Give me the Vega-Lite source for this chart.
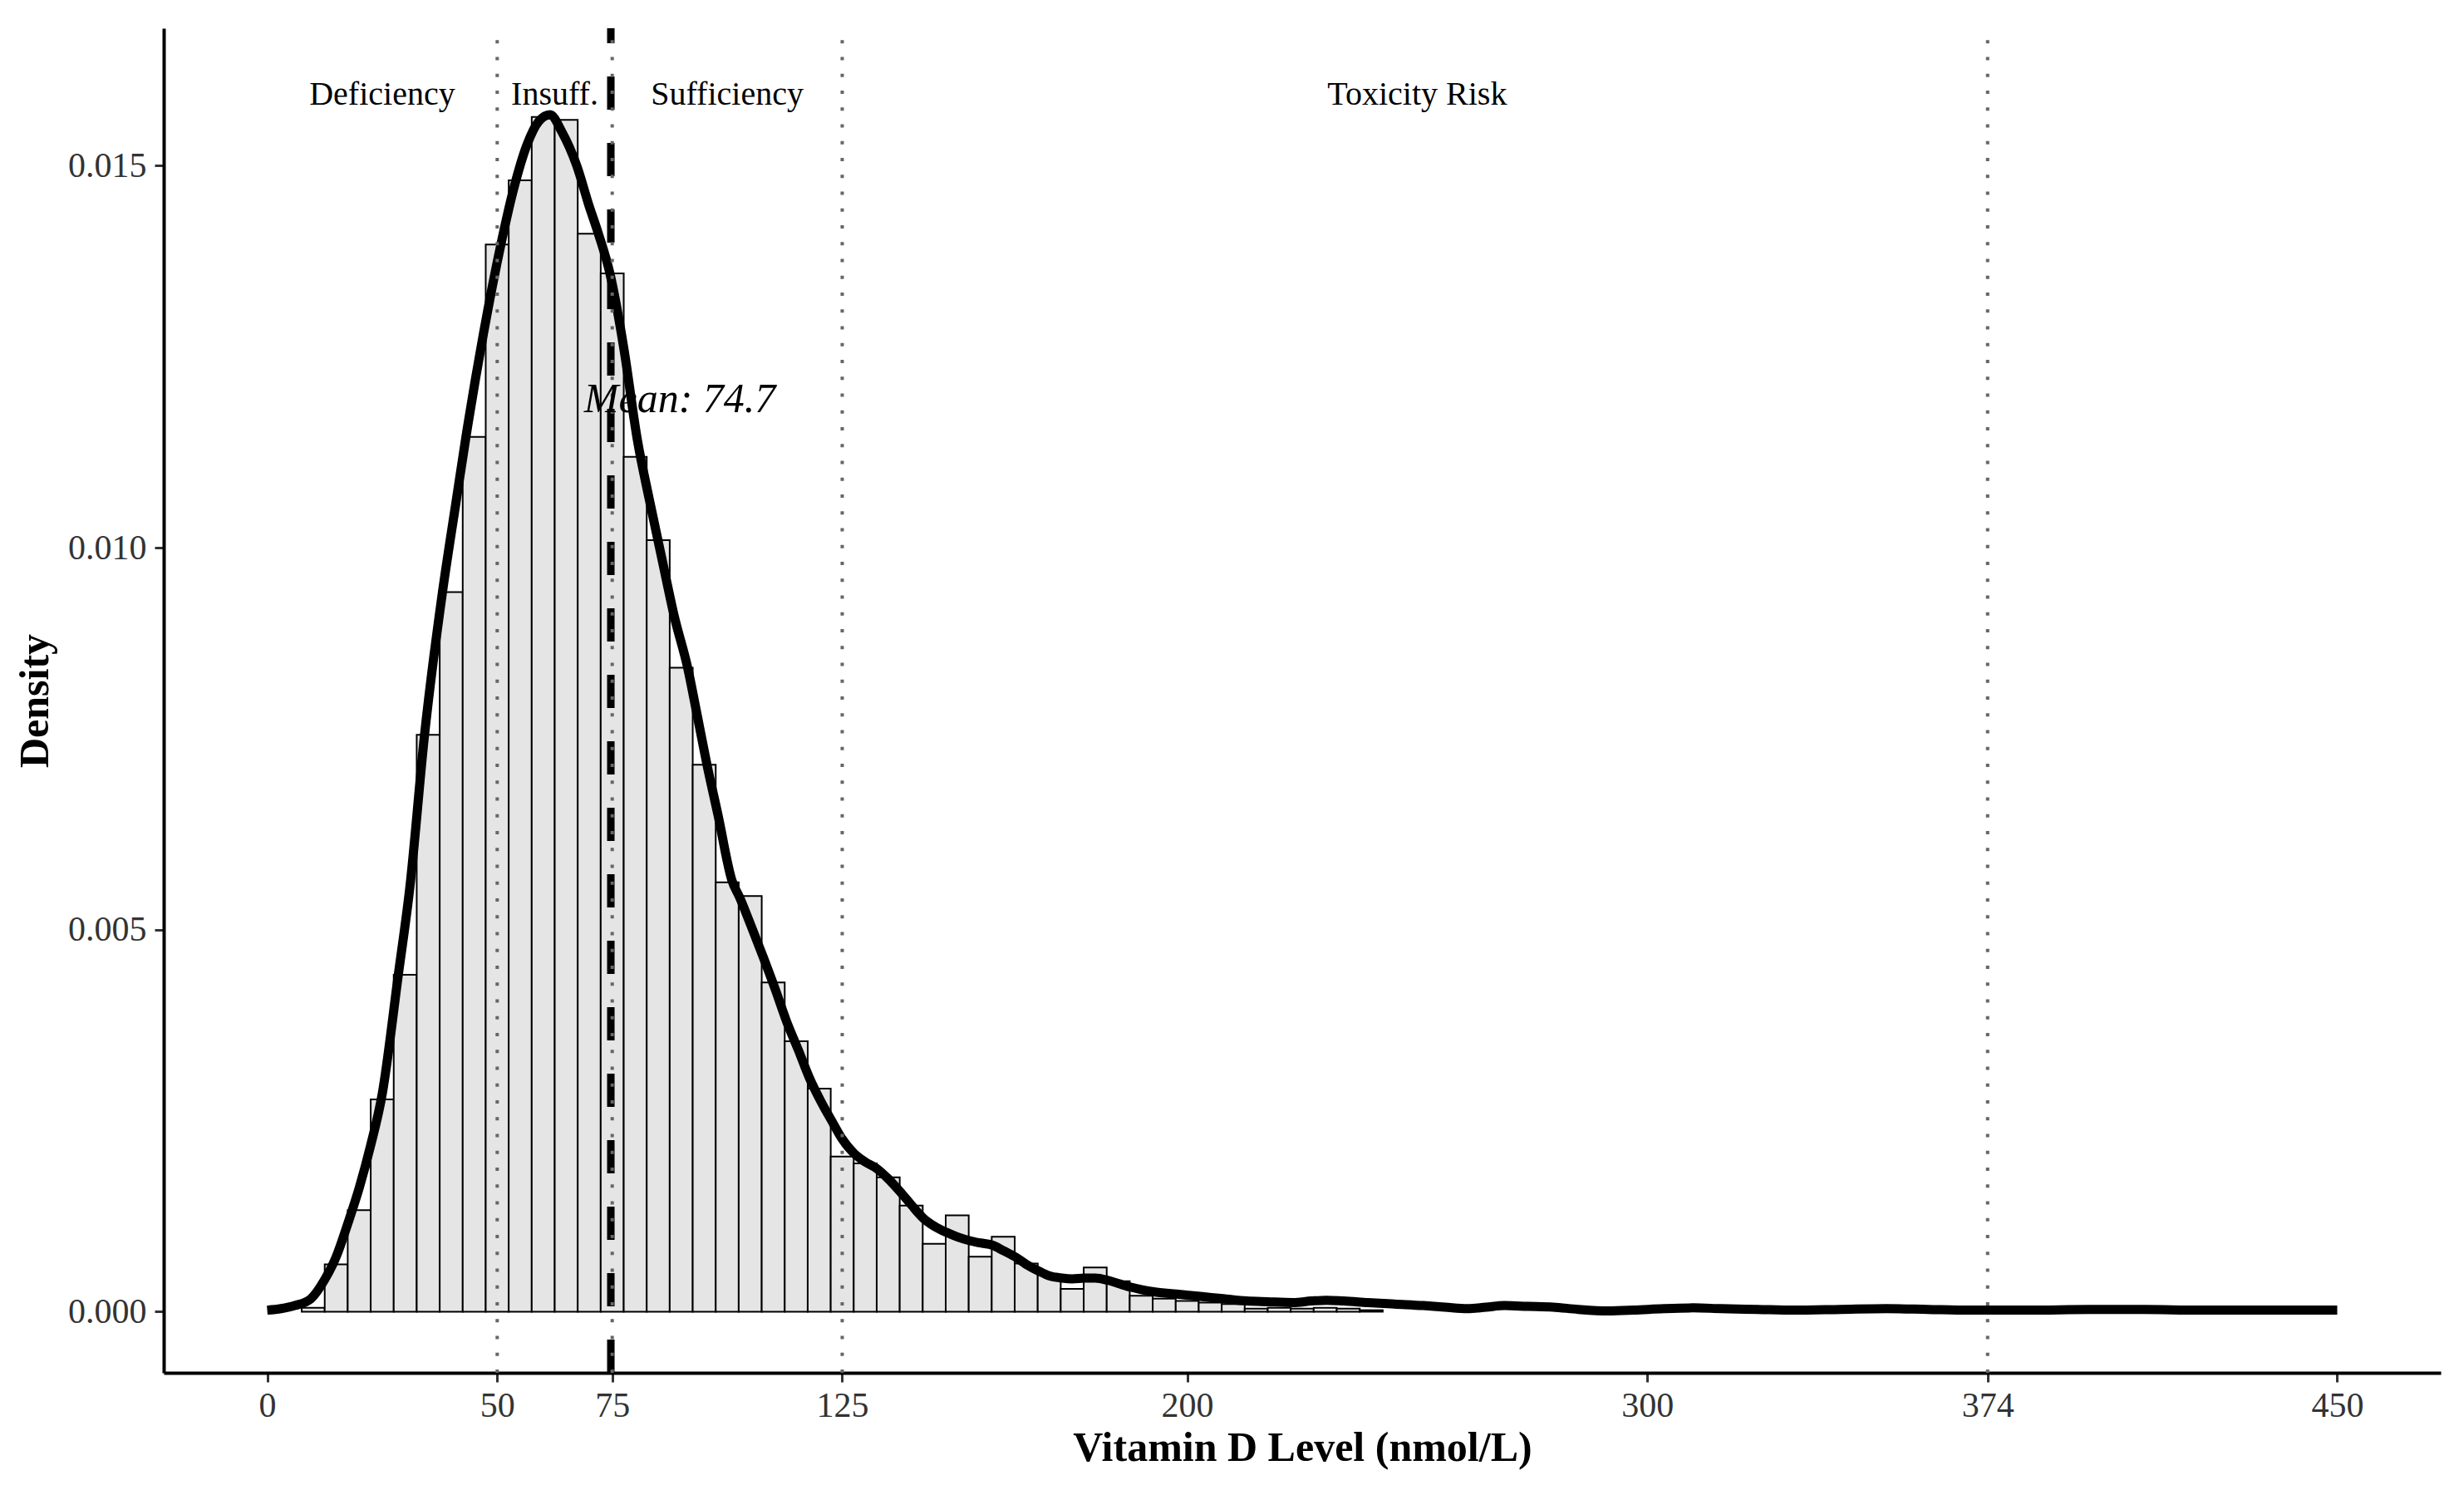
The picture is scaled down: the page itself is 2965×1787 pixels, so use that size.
{
  "$schema": "https://vega.github.io/schema/vega-lite/v6.json",
  "width": 2740,
  "height": 1618,
  "autosize": "none",
  "padding": {"left": 197, "top": 34, "right": 28, "bottom": 135},
  "background": "white",
  "config": {
    "view": {"stroke": null},
    "font": "Liberation Serif",
    "axis": {
      "grid": false,
      "domainColor": "black",
      "domainWidth": 4,
      "tickColor": "#333333",
      "tickWidth": 3,
      "tickSize": 11,
      "labelFont": "Liberation Serif",
      "labelFontSize": 42,
      "labelColor": "#333333",
      "titleFont": "Liberation Serif",
      "titleFontSize": 50,
      "titleFontWeight": "bold",
      "titleColor": "black"
    }
  },
  "datasets": {
    "bars": [
      {"start": 7.5, "end": 12.5, "density": 0.00005},
      {"start": 12.5, "end": 17.5, "density": 0.00062},
      {"start": 17.5, "end": 22.5, "density": 0.00133},
      {"start": 22.5, "end": 27.5, "density": 0.00278},
      {"start": 27.5, "end": 32.5, "density": 0.00441},
      {"start": 32.5, "end": 37.5, "density": 0.00755},
      {"start": 37.5, "end": 42.5, "density": 0.00942},
      {"start": 42.5, "end": 47.5, "density": 0.01145},
      {"start": 47.5, "end": 52.5, "density": 0.01397},
      {"start": 52.5, "end": 57.5, "density": 0.01481},
      {"start": 57.5, "end": 62.5, "density": 0.01564},
      {"start": 62.5, "end": 67.5, "density": 0.0156},
      {"start": 67.5, "end": 72.5, "density": 0.01411},
      {"start": 72.5, "end": 77.5, "density": 0.01359},
      {"start": 77.5, "end": 82.5, "density": 0.01119},
      {"start": 82.5, "end": 87.5, "density": 0.0101},
      {"start": 87.5, "end": 92.5, "density": 0.00843},
      {"start": 92.5, "end": 97.5, "density": 0.00716},
      {"start": 97.5, "end": 102.5, "density": 0.00562},
      {"start": 102.5, "end": 107.5, "density": 0.00544},
      {"start": 107.5, "end": 112.5, "density": 0.00431},
      {"start": 112.5, "end": 117.5, "density": 0.00354},
      {"start": 117.5, "end": 122.5, "density": 0.00292},
      {"start": 122.5, "end": 127.5, "density": 0.00203},
      {"start": 127.5, "end": 132.5, "density": 0.00194},
      {"start": 132.5, "end": 137.5, "density": 0.00176},
      {"start": 137.5, "end": 142.5, "density": 0.00139},
      {"start": 142.5, "end": 147.5, "density": 0.00089},
      {"start": 147.5, "end": 152.5, "density": 0.00126},
      {"start": 152.5, "end": 157.5, "density": 0.00072},
      {"start": 157.5, "end": 162.5, "density": 0.00098},
      {"start": 162.5, "end": 167.5, "density": 0.00063},
      {"start": 167.5, "end": 172.5, "density": 0.00048},
      {"start": 172.5, "end": 177.5, "density": 0.0003},
      {"start": 177.5, "end": 182.5, "density": 0.00058},
      {"start": 182.5, "end": 187.5, "density": 0.0004},
      {"start": 187.5, "end": 192.5, "density": 0.00021},
      {"start": 192.5, "end": 197.5, "density": 0.00017},
      {"start": 197.5, "end": 202.5, "density": 0.00014},
      {"start": 202.5, "end": 207.5, "density": 0.00012},
      {"start": 207.5, "end": 212.5, "density": 0.0001},
      {"start": 212.5, "end": 217.5, "density": 0.00004},
      {"start": 217.5, "end": 222.5, "density": 0.00005},
      {"start": 222.5, "end": 227.5, "density": 0.00004},
      {"start": 227.5, "end": 232.5, "density": 0.00005},
      {"start": 232.5, "end": 237.5, "density": 0.00004},
      {"start": 237.5, "end": 242.5, "density": 0.00002}
    ],
    "curve": [
      {"x": 0, "d": 0.00002}, {"x": 3, "d": 0.00004}, {"x": 6, "d": 0.00008}, {"x": 9.5, "d": 0.00017},
      {"x": 12.5, "d": 0.00042}, {"x": 15, "d": 0.00072}, {"x": 17.5, "d": 0.00115}, {"x": 20, "d": 0.00162},
      {"x": 22.5, "d": 0.00218}, {"x": 25, "d": 0.00285}, {"x": 28.5, "d": 0.00441}, {"x": 31, "d": 0.00555},
      {"x": 34.2, "d": 0.00755}, {"x": 38.1, "d": 0.00942}, {"x": 41, "d": 0.01058}, {"x": 43.2, "d": 0.01145},
      {"x": 47, "d": 0.0128}, {"x": 50.8, "d": 0.01397}, {"x": 53.5, "d": 0.01468}, {"x": 56.5, "d": 0.01528},
      {"x": 59, "d": 0.01558}, {"x": 61.5, "d": 0.01567}, {"x": 64, "d": 0.01545}, {"x": 67.3, "d": 0.015},
      {"x": 70, "d": 0.01447}, {"x": 72, "d": 0.01411}, {"x": 74.5, "d": 0.01359}, {"x": 77.5, "d": 0.01262},
      {"x": 80.5, "d": 0.0114}, {"x": 83, "d": 0.01065}, {"x": 86, "d": 0.0098}, {"x": 88.5, "d": 0.0091},
      {"x": 91.4, "d": 0.00843}, {"x": 93.5, "d": 0.0078}, {"x": 95.6, "d": 0.00716}, {"x": 98, "d": 0.0065},
      {"x": 101, "d": 0.00565}, {"x": 102.8, "d": 0.00541}, {"x": 105, "d": 0.00508},
      {"x": 107.9, "d": 0.00463}, {"x": 110.5, "d": 0.00421}, {"x": 112.9, "d": 0.0038}, {"x": 115.5, "d": 0.00342},
      {"x": 117.8, "d": 0.00307}, {"x": 120.3, "d": 0.00276}, {"x": 122.7, "d": 0.0025}, {"x": 125, "d": 0.00226},
      {"x": 127.6, "d": 0.00207}, {"x": 130, "d": 0.00196}, {"x": 132.6, "d": 0.00187}, {"x": 135, "d": 0.00174},
      {"x": 137.6, "d": 0.00157}, {"x": 140, "d": 0.0014}, {"x": 142.7, "d": 0.00122}, {"x": 145, "d": 0.00112},
      {"x": 147.6, "d": 0.00104}, {"x": 150, "d": 0.00098}, {"x": 152.7, "d": 0.00093}, {"x": 155, "d": 0.0009},
      {"x": 157.7, "d": 0.00087}, {"x": 160, "d": 0.0008}, {"x": 162.8, "d": 0.00071}, {"x": 165, "d": 0.00062},
      {"x": 167.8, "d": 0.00053}, {"x": 170, "d": 0.00047}, {"x": 172.8, "d": 0.00044}, {"x": 175, "d": 0.00043},
      {"x": 177.7, "d": 0.00044}, {"x": 180, "d": 0.00044}, {"x": 182.8, "d": 0.00041}, {"x": 185, "d": 0.00037},
      {"x": 187.8, "d": 0.00032}, {"x": 190, "d": 0.00029}, {"x": 192.7, "d": 0.00026}, {"x": 197.7, "d": 0.00023},
      {"x": 202.8, "d": 0.0002}, {"x": 207.8, "d": 0.00017}, {"x": 212.9, "d": 0.00014}, {"x": 217.4, "d": 0.00013},
      {"x": 223, "d": 0.00012}, {"x": 227, "d": 0.00014}, {"x": 230.3, "d": 0.00015}, {"x": 234, "d": 0.00014},
      {"x": 239.2, "d": 0.00012}, {"x": 245, "d": 0.0001}, {"x": 251.3, "d": 0.00008}, {"x": 256, "d": 0.00006},
      {"x": 260.9, "d": 0.00004}, {"x": 265, "d": 0.00006}, {"x": 269, "d": 0.00008}, {"x": 274, "d": 0.00007},
      {"x": 279.5, "d": 0.00006}, {"x": 285, "d": 0.00003}, {"x": 291.5, "d": 0.00001}, {"x": 297, "d": 0.00002},
      {"x": 303.6, "d": 0.00004}, {"x": 310, "d": 0.00005}, {"x": 316, "d": 0.00004}, {"x": 324, "d": 0.00003},
      {"x": 332, "d": 0.00002}, {"x": 342, "d": 0.00003}, {"x": 352, "d": 0.00004}, {"x": 361, "d": 0.00003},
      {"x": 370, "d": 0.00002}, {"x": 383, "d": 0.00002}, {"x": 396, "d": 0.00003}, {"x": 408, "d": 0.00003},
      {"x": 420, "d": 0.00002}, {"x": 432, "d": 0.00002}, {"x": 441, "d": 0.00002}, {"x": 450, "d": 0.00002}
    ],
    "thresholds": [{"v": 50}, {"v": 75}, {"v": 125}, {"v": 374}],
    "mean": [{"v": 74.7}],
    "regions": [
      {"x": 25, "y": 0.016, "label": "Deficiency"},
      {"x": 62.5, "y": 0.016, "label": "Insuff."},
      {"x": 100, "y": 0.016, "label": "Sufficiency"},
      {"x": 250, "y": 0.016, "label": "Toxicity Risk"}
    ],
    "meanlabel": [{"x": 89.7, "y": 0.012, "label": "Mean: 74.7"}]
  },
  "layer": [
    {
      "data": {"name": "bars"},
      "mark": {"type": "bar", "fill": "#e5e5e5", "stroke": "black", "strokeWidth": 2},
      "encoding": {
        "x": {
          "field": "start", "type": "quantitative",
          "scale": {"domain": [-22.5, 472.5], "nice": false, "zero": false},
          "axis": {
            "values": [0, 50, 75, 125, 200, 300, 374, 450],
            "title": "Vitamin D Level (nmol/L)",
            "labelPadding": 8,
            "titlePadding": 5,
            "labelFlush": false,
            "labelOverlap": false
          }
        },
        "x2": {"field": "end"},
        "y": {
          "field": "density", "type": "quantitative",
          "scale": {"domain": [-0.0008, 0.0168], "nice": false, "zero": false},
          "axis": {
            "values": [0, 0.005, 0.01, 0.015],
            "format": ".3f",
            "title": "Density",
            "labelPadding": 10,
            "titlePadding": 14
          }
        },
        "y2": {"datum": 0}
      }
    },
    {
      "data": {"name": "curve"},
      "mark": {"type": "line", "color": "black", "strokeWidth": 11, "interpolate": "monotone"},
      "encoding": {
        "x": {"field": "x", "type": "quantitative"},
        "y": {"field": "d", "type": "quantitative"}
      }
    },
    {
      "data": {"name": "mean"},
      "mark": {"type": "rule", "color": "black", "strokeWidth": 9, "strokeDash": [40, 40]},
      "encoding": {
        "x": {"field": "v", "type": "quantitative"},
        "y": {"value": "height"},
        "y2": {"value": 0}
      }
    },
    {
      "data": {"name": "thresholds"},
      "mark": {"type": "rule", "color": "#666666", "strokeWidth": 4, "strokeDash": [4, 16.25]},
      "encoding": {
        "x": {"field": "v", "type": "quantitative"},
        "y": {"value": "height"},
        "y2": {"value": 0}
      }
    },
    {
      "data": {"name": "regions"},
      "mark": {"type": "text", "font": "Liberation Serif", "fontSize": 40, "color": "black", "align": "center", "baseline": "middle", "dy": 6},
      "encoding": {
        "x": {"field": "x", "type": "quantitative"},
        "y": {"field": "y", "type": "quantitative"},
        "text": {"field": "label"}
      }
    },
    {
      "data": {"name": "meanlabel"},
      "mark": {"type": "text", "font": "Liberation Serif", "fontSize": 50, "fontStyle": "italic", "color": "black", "align": "center", "baseline": "middle", "dy": 6},
      "encoding": {
        "x": {"field": "x", "type": "quantitative"},
        "y": {"field": "y", "type": "quantitative"},
        "text": {"field": "label"}
      }
    }
  ]
}
